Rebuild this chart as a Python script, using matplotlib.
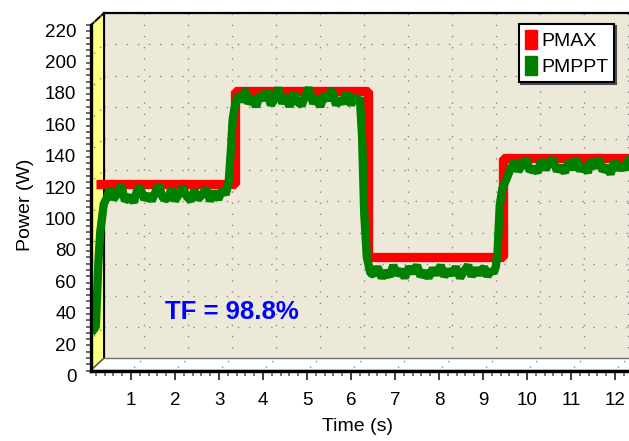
import matplotlib
matplotlib.use("Agg")
import matplotlib.pyplot as plt
from matplotlib.patches import Polygon, Patch
from matplotlib.lines import Line2D
from matplotlib.ticker import MultipleLocator
from matplotlib.transforms import ScaledTranslation

plt.rcParams['font.family'] = ['Liberation Sans', 'DejaVu Sans']

# maximum available power (step profile)
t_pmax = [0.2, 3.37, 3.37, 6.38, 6.38, 9.45, 9.45, 12.5]
p_pmax = [119, 119, 178, 178, 72, 72, 135, 135]

# power extracted by the MPPT controller, one list per irradiance step
t_start = [0.10, 0.20, 0.26, 0.30, 0.38]
p_start = [24, 28, 70, 88, 106]
t_lvl1 = [0.45, 0.52, 0.60, 0.70, 0.78, 0.86, 0.98, 1.06, 1.14, 1.20,
          1.30, 1.40, 1.47, 1.56, 1.63, 1.72, 1.84, 1.92, 2.00, 2.10,
          2.17, 2.26, 2.36, 2.44, 2.52, 2.62, 2.70, 2.80, 2.90, 2.98,
          3.08, 3.15, 3.22]
p_lvl1 = [110, 116, 109, 113, 118, 108, 111, 107, 115, 117,
          109, 112, 108, 114, 118, 110, 109, 116, 108, 113,
          117, 111, 108, 115, 109, 112, 116, 108, 114, 109,
          115, 112, 120]
t_rise1 = [3.27, 3.31, 3.37, 3.45]
p_rise1 = [140, 160, 170, 176]
t_lvl2 = [3.52, 3.60, 3.66, 3.76, 3.84, 3.94, 4.00, 4.08, 4.18, 4.26,
          4.34, 4.44, 4.52, 4.60, 4.70, 4.78, 4.88, 4.96, 5.04, 5.14,
          5.22, 5.30, 5.40, 5.48, 5.56, 5.66, 5.74, 5.82, 5.90, 6.00,
          6.08, 6.14, 6.20]
p_lvl2 = [171, 179, 170, 174, 168, 176, 172, 178, 169, 173,
          180, 170, 175, 168, 177, 171, 169, 175, 180, 170,
          174, 168, 176, 172, 179, 169, 173, 170, 177, 169,
          175, 171, 174]
t_drop = [6.25, 6.30, 6.36, 6.44]
p_drop = [150, 100, 72, 62]
t_lvl3 = [6.52, 6.60, 6.70, 6.78, 6.88, 6.96, 7.04, 7.14, 7.22, 7.32,
          7.40, 7.50, 7.58, 7.68, 7.76, 7.86, 7.94, 8.04, 8.12, 8.22,
          8.30, 8.38, 8.48, 8.56, 8.66, 8.74, 8.84, 8.92, 9.02, 9.10,
          9.18, 9.24, 9.29]
p_lvl3 = [61, 66, 59, 63, 60, 67, 61, 64, 59, 66,
          62, 67, 60, 63, 59, 65, 61, 67, 60, 64,
          61, 66, 59, 63, 67, 60, 65, 61, 66, 60,
          64, 62, 66]
t_rise2 = [9.33, 9.38, 9.44, 9.52, 9.62]
p_rise2 = [75, 105, 116, 121, 128]
t_lvl4 = [9.72, 9.80, 9.90, 9.98, 10.06, 10.16, 10.24, 10.32, 10.42, 10.50,
          10.58, 10.68, 10.76, 10.86, 10.94, 11.02, 11.12, 11.20, 11.28, 11.38,
          11.46, 11.56, 11.64, 11.72, 11.82, 11.90, 11.98, 12.08, 12.16, 12.24,
          12.32, 12.40]
p_lvl4 = [133, 127, 131, 135, 127, 129, 126, 134, 128, 132,
          135, 127, 130, 126, 133, 128, 135, 127, 131, 126,
          134, 129, 135, 127, 130, 125, 133, 128, 131, 128,
          135, 138]

t_mppt = t_start + t_lvl1 + t_rise1 + t_lvl2 + t_drop + t_lvl3 + t_rise2 + t_lvl4
p_mppt = p_start + p_lvl1 + p_rise1 + p_lvl2 + p_drop + p_lvl3 + p_rise2 + p_lvl4

tf_label = "TF = 98.8%"

W, H = 629, 441
fig = plt.figure(figsize=(W / 100, H / 100), dpi=100)

# front frame in pixels (from top-left), depth offset of the 3D box
X0, X1 = 91, 632
Y0, Y1 = 370.5, 25
DX, DY = 13, 12
XLIM = (0.09, 12.386)
YLIM = (0, 220)


def fx(px):
    return px / W


def fy(py):
    return 1 - py / H


# back wall with dotted grid
ax_back = fig.add_axes([fx(X0 + DX), fy(Y0 - DY), (X1 - X0) / W, (Y0 - Y1) / H], zorder=0)
ax_back.set_facecolor('#ECE9D8')
ax_back.set_xlim(XLIM)
ax_back.set_ylim(YLIM)
ax_back.set_xticks(range(1, 13))
ax_back.set_yticks(range(20, 221, 20))
ax_back.grid(color='#8a8a8a', linestyle=(0, (1, 7)), linewidth=1)
ax_back.tick_params(length=0, labelbottom=False, labelleft=False)
ax_back.spines['right'].set_visible(False)
ax_back.spines['left'].set_linewidth(1.6)
ax_back.spines['top'].set_linewidth(1.6)
ax_back.spines['bottom'].set_color('#606060')
ax_back.spines['bottom'].set_linewidth(1)

# yellow side wall and white floor
wall = Polygon([(fx(X0), fy(Y0)), (fx(X0), fy(Y1)), (fx(X0 + DX), fy(Y1 - DY)),
                (fx(X0 + DX), fy(Y0 - DY))], closed=True, transform=fig.transFigure,
               facecolor='#FFFF80', edgecolor='black', linewidth=1.4, zorder=1)
fig.add_artist(wall)
floor = Polygon([(fx(X0), fy(Y0)), (fx(X0 + DX), fy(Y0 - DY)), (fx(W + 30), fy(Y0 - DY)),
                 (fx(W + 30), fy(Y0))], closed=True, transform=fig.transFigure,
                facecolor='white', edgecolor='#707070', linewidth=1, zorder=1)
fig.add_artist(floor)

# front axes carrying the data and the scales
ax = fig.add_axes([fx(X0), fy(Y0), (X1 - X0) / W, (Y0 - Y1) / H], zorder=2)
ax.set_facecolor('none')
ax.set_xlim(XLIM)
ax.set_ylim(YLIM)

# dotted grid continued on the wall and floor
sx = (X1 - X0) / (XLIM[1] - XLIM[0])
sy = (Y0 - Y1) / (YLIM[1] - YLIM[0])
for v in range(20, 221, 20):
    y = Y0 - v * sy
    fig.add_artist(Line2D([fx(X0), fx(X0 + DX)], [fy(y), fy(y - DY)], transform=fig.transFigure,
                          color='#8a8a8a', linestyle=(3, (1, 5)), linewidth=1, zorder=1.5))
for t in range(1, 13):
    x = X0 + (t - XLIM[0]) * sx
    fig.add_artist(Line2D([fx(x), fx(x + DX)], [fy(Y0), fy(Y0 - DY)], transform=fig.transFigure,
                          color='#8a8a8a', linestyle=(3, (1, 5)), linewidth=1, zorder=1.5))

ax.plot(t_pmax, p_pmax, color='#FF0000', linewidth=6.7, solid_joinstyle='bevel',
        solid_capstyle='butt', label='PMAX')
ax.plot(t_mppt, p_mppt, color='#008000', linewidth=6.0, solid_joinstyle='bevel',
        solid_capstyle='butt', label='PMPPT')

for side in ('top', 'right'):
    ax.spines[side].set_visible(False)
ax.spines['left'].set_linewidth(2.4)
ax.spines['bottom'].set_linewidth(2.4)

ax.xaxis.set_major_locator(MultipleLocator(1))
ax.xaxis.set_minor_locator(MultipleLocator(0.2))
ax.yaxis.set_major_locator(MultipleLocator(20))
ax.yaxis.set_minor_locator(MultipleLocator(4))
ax.tick_params(axis='x', which='major', length=6.5, width=1.4, color='#404040',
               labelsize=13.5, pad=9)
ax.tick_params(axis='x', which='minor', length=3.5, width=1.1, color='#505050')
ax.tick_params(axis='y', which='both', length=3.6, width=1.2, color='#505050',
               labelsize=13.5, pad=7)
shift = ScaledTranslation(0, -0.05, fig.dpi_scale_trans)
for lab in ax.get_yticklabels():
    lab.set_transform(lab.get_transform() + shift)

fig.text(fx(358), fy(426.7), 'Time (s)', ha='center', va='center', fontsize=14)
fig.text(fx(25), fy(205), 'Power (W)', ha='center', va='center', fontsize=14, rotation=90)
fig.text(fx(232), fy(311.7), tf_label, ha='center', va='center', fontsize=18.5,
         fontweight='bold', color='#0000FF')

handles = [Patch(facecolor='#FF0000', edgecolor='#FF0000', label='PMAX'),
           Patch(facecolor='#008000', edgecolor='#008000', label='PMPPT')]
leg = fig.legend(handles=handles, loc='upper right', bbox_to_anchor=(fx(614), fy(24.3)),
                 bbox_transform=fig.transFigure, fontsize=14, frameon=True, fancybox=False,
                 shadow={'ox': 1.5, 'oy': -1.5, 'facecolor': 'black', 'alpha': 1},
                 borderaxespad=0, handlelength=0.62, handleheight=1.1, handletextpad=0.2,
                 labelspacing=0.32, borderpad=0.3)
leg.get_frame().set_edgecolor('black')
leg.get_frame().set_linewidth(1.5)
leg.set_zorder(5)

fig.savefig('out.png', dpi=100)
